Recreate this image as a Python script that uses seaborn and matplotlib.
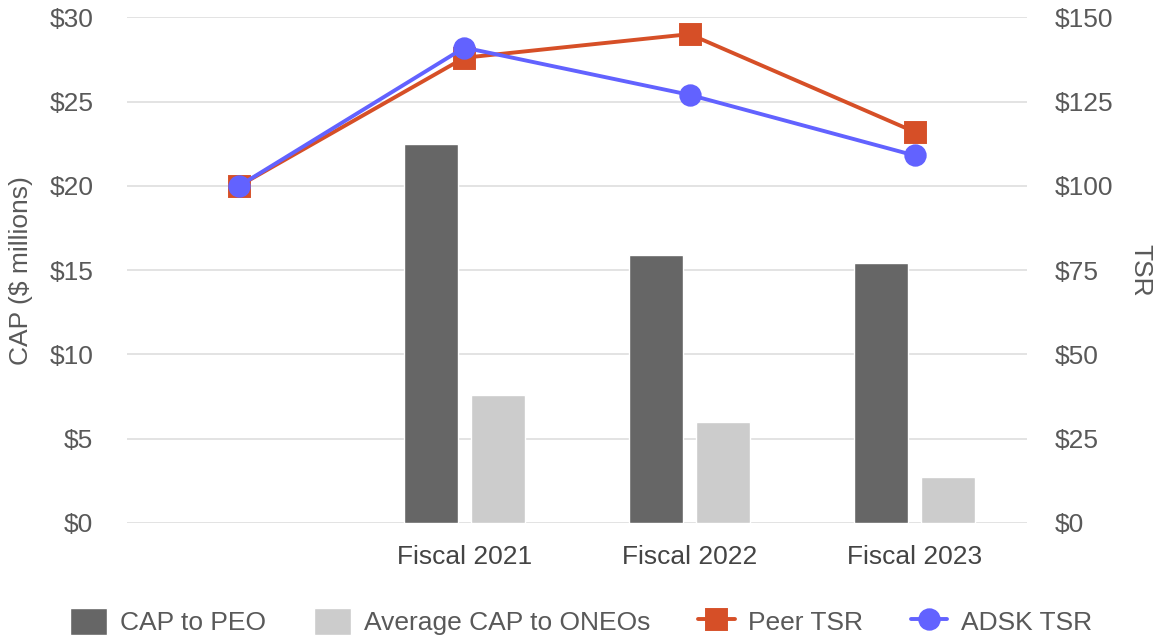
import matplotlib
matplotlib.use('Agg')
import matplotlib.pyplot as plt
import seaborn as sns
import pandas as pd
import numpy as np

# dados
categorias = ['', 'Fiscal 2021', 'Fiscal 2022', 'Fiscal 2023']
cap_peo = [np.nan, 22.5, 15.9, 15.4]
cap_oneos = [np.nan, 7.6, 6.0, 2.7]
peer_tsr = [100, 138, 145, 116]
adsk_tsr = [100, 141, 127, 109]

series_barras = ['CAP to PEO', 'Average CAP to ONEOs']
series_linhas = ['Peer TSR', 'ADSK TSR']

df_barras = pd.DataFrame({
    'Ano': categorias * 2,
    'Serie': [series_barras[0]] * 4 + [series_barras[1]] * 4,
    'Valor': cap_peo + cap_oneos,
})
df_linhas = pd.DataFrame({
    'Ano': categorias * 2,
    'Serie': [series_linhas[0]] * 4 + [series_linhas[1]] * 4,
    'Valor': peer_tsr + adsk_tsr,
})

sns.set_style('white')
plt.rcParams['font.family'] = ['Liberation Sans', 'DejaVu Sans']
cor_texto = '#595959'
fs = 19

fig = plt.figure(figsize=(11.62, 6.4), dpi=100)
ax = fig.add_axes([0.109, 0.183, 0.775, 0.790])
ax2 = ax.twinx()

sns.barplot(data=df_barras, x='Ano', y='Valor', hue='Serie', order=categorias,
            hue_order=series_barras, palette=['#666666', '#CCCCCC'],
            width=0.6, gap=0.2, saturation=1, ax=ax, errorbar=None)

sns.pointplot(data=df_linhas, x='Ano', y='Valor', hue='Serie', order=categorias,
              hue_order=series_linhas, palette=['#D64F27', '#6262FF'],
              markers=['s', 'o'], linestyles=['-', '-'], markersize=14,
              linewidth=2.8, errorbar=None, ax=ax2)

# legenda combinada
h1 = list(ax.get_legend().legend_handles)
l1 = [t.get_text() for t in ax.get_legend().get_texts()]
h2 = list(ax2.get_legend().legend_handles)
l2 = [t.get_text() for t in ax2.get_legend().get_texts()]
ax.get_legend().remove()
ax2.get_legend().remove()
for h in h2:
    h.set_markersize(14)
    h.set_linewidth(2.8)
fig.legend(h1 + h2, l1 + l2, loc='lower center', bbox_to_anchor=(0.5, -0.03),
           ncol=4, frameon=False, fontsize=fs, labelcolor=cor_texto,
           handlelength=1.4, handleheight=1.2, columnspacing=1.8, handletextpad=0.5)

ax.set_xlim(-0.5, 3.5)
ax.set_ylim(0, 30)
ax2.set_ylim(0, 150)
ax.set_yticks(range(0, 31, 5))
ax.set_yticklabels([f'${v}' for v in range(0, 31, 5)])
ax2.set_yticks(range(0, 151, 25))
ax2.set_yticklabels([f'${v}' for v in range(0, 151, 25)])

ax.grid(axis='y', color='#E0E0E0', linewidth=1.3)
ax.set_axisbelow(True)
ax2.grid(False)
for a in (ax, ax2):
    for s in a.spines.values():
        s.set_visible(False)
    a.tick_params(length=0, labelsize=fs, labelcolor=cor_texto)
ax.tick_params(axis='y', pad=24)
ax2.tick_params(axis='y', pad=20)
ax.tick_params(axis='x', pad=16, labelcolor='#444444')

ax.set_xlabel('')
ax.set_ylabel('CAP ($ millions)', fontsize=fs, color=cor_texto, va='center')
ax.yaxis.set_label_coords(-0.117, 0.5)
ax2.set_xlabel('')
ax2.set_ylabel('TSR', fontsize=fs, color=cor_texto, rotation=270, va='center')
ax2.yaxis.set_label_coords(1.126, 0.5)

plt.savefig('out.png', dpi=100)
